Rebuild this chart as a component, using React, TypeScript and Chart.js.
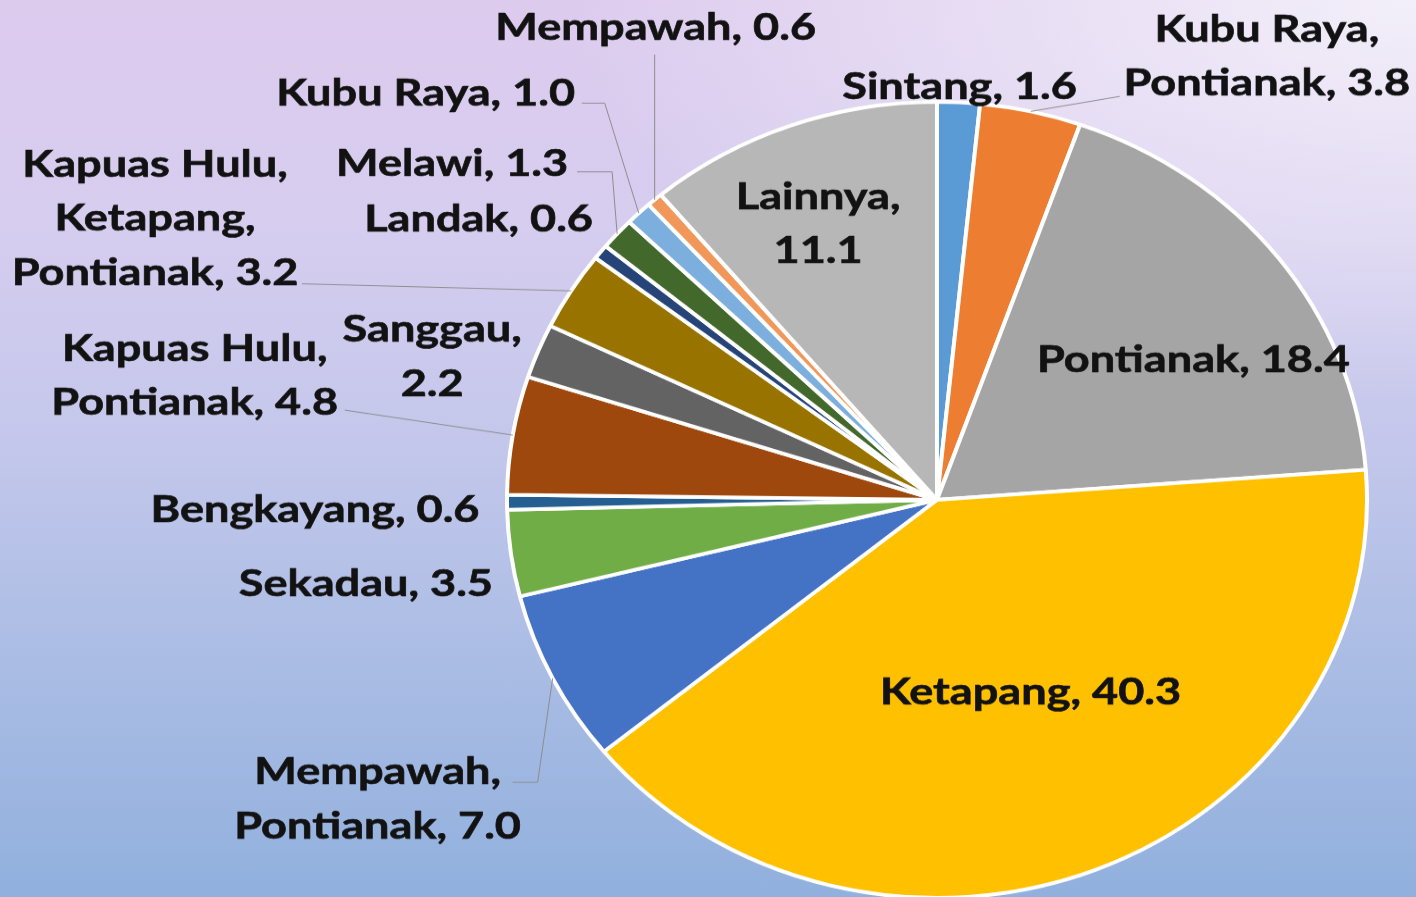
import React, { useEffect, useRef } from "react";
import { Chart, registerables } from "chart.js";

Chart.register(...registerables);

// ---- data ----
const categories = [
  "Sintang",
  "Kubu Raya,\nPontianak",
  "Pontianak",
  "Ketapang",
  "Mempawah,\nPontianak",
  "Sekadau",
  "Bengkayang",
  "Kapuas Hulu,\nPontianak",
  "Sanggau",
  "Kapuas Hulu,\nKetapang,\nPontianak",
  "Landak",
  "Melawi",
  "Kubu Raya",
  "Mempawah",
  "Lainnya",
];
const values = [1.6, 3.8, 18.4, 40.3, 7.0, 3.5, 0.6, 4.8, 2.2, 3.2, 0.6, 1.3, 1.0, 0.6, 11.1];
const valueOnNewLine = [false, false, false, false, false, false, false, false, true, false, false, false, false, false, true];
const sliceColors = [
  "#5B9BD5", "#ED7D31", "#A5A5A5", "#FFC000", "#4472C4", "#70AD47", "#255E91",
  "#9E480E", "#636363", "#997300", "#264478", "#43682B", "#7CAFDD", "#F1975A", "#B7B7B7",
];

// label anchor (centre x, first baseline) as offset from the slice's outer mid point (screen px)
const labelOffsets: [number, number][] = [
  [1, -3], [236, -70], [-85, 114], [-66, -165], [-175, 106], [-145, 43], [-192, 20],
  [-318, -74], [-106, -9], [-416, -114], [-122, -21], [-165, -58], [-213, -108], [1, -160], [28, 83],
];
// leader polylines, offsets from the slice's outer mid point (screen px), ending at that point
const leaderPoints: [number, number][][] = [
  [], [[89, -15]], [], [], [[-40, 104], [-15, 104]], [], [], [[-168, -25]], [],
  [[-269, -7]], [], [[-40, -62], [-5, -62]], [[-57, -110], [-34, -110]], [[0, -145]], [],
];

const W = 1416;
const H = 897;
const SY = 398 / 430; // vertical squeeze of the original picture
const CH = Math.round(H / SY);
const LINE = 54;
const FONT = "bold 41px Lato";
const HX = 1.1; // horizontal stretch of label text

const labelLines = categories.map((c, i) =>
  (c + "," + (valueOnNewLine[i] ? "\n" : " ") + values[i].toFixed(1)).split("\n")
);

const labelPlugin = {
  id: "sliceLabels",
  afterDatasetsDraw(chart: any) {
    const ctx = chart.ctx as CanvasRenderingContext2D;
    const meta = chart.getDatasetMeta(0);
    ctx.save();
    const anchors = meta.data.map((arc: any) => {
      const p = arc.getProps(["x", "y", "startAngle", "endAngle", "outerRadius"], true);
      const mid = (p.startAngle + p.endAngle) / 2;
      return [p.x + Math.cos(mid) * p.outerRadius, p.y + Math.sin(mid) * p.outerRadius];
    });
    ctx.strokeStyle = "#8d8d8d";
    ctx.lineWidth = 1;
    anchors.forEach(([ex, ey]: number[], i: number) => {
      const pts = leaderPoints[i];
      if (!pts.length) return;
      ctx.beginPath();
      ctx.moveTo(ex + pts[0][0], ey + pts[0][1] / SY);
      for (let k = 1; k < pts.length; k++) ctx.lineTo(ex + pts[k][0], ey + pts[k][1] / SY);
      ctx.lineTo(ex, ey);
      ctx.stroke();
    });
    ctx.font = FONT;
    ctx.fillStyle = "#121212";
    ctx.strokeStyle = "#121212";
    ctx.lineWidth = 0.7;
    ctx.textAlign = "center";
    ctx.textBaseline = "alphabetic";
    anchors.forEach(([ex, ey]: number[], i: number) => {
      const [dx, dy] = labelOffsets[i];
      labelLines[i].forEach((ln, k) => {
        ctx.save();
        ctx.translate(ex + dx, ey + (dy + k * LINE) / SY);
        ctx.scale(HX, 1);
        ctx.fillText(ln, 0, 0);
        ctx.strokeText(ln, 0, 0);
        ctx.restore();
      });
    });
    ctx.restore();
  },
};

export default function App() {
  const ref = useRef<HTMLCanvasElement | null>(null);
  useEffect(() => {
    if (!ref.current) return;
    const chart = new Chart(ref.current, {
      type: "pie",
      data: {
        labels: categories.map((c) => c.replace(/\n/g, " ")),
        datasets: [
          {
            data: values,
            backgroundColor: sliceColors,
            borderColor: "#ffffff",
            borderWidth: 4,
          },
        ],
      },
      options: {
        responsive: false,
        animation: false,
        radius: 430,
        layout: { padding: { left: 458, right: 0, top: 111, bottom: 0 } },
        plugins: { legend: { display: false }, tooltip: { enabled: false } },
      } as any,
      plugins: [labelPlugin],
    });
    return () => chart.destroy();
  }, []);

  return (
    <div
      style={{
        position: "fixed",
        left: 0,
        top: 0,
        width: W,
        height: H,
        overflow: "hidden",
        background:
          "radial-gradient(ellipse 60% 45% at 100% 0%, rgba(244,241,250,0.95), rgba(244,241,250,0) 100%), " +
          "linear-gradient(180deg, #ddcbee 0%, #d6cdef 25%, #c3c7eb 50%, #a9bce4 75%, #91b0dd 100%)",
      }}
    >
      <div style={{ width: W, height: CH, transform: `scaleY(${SY})`, transformOrigin: "0 0" }}>
        <canvas ref={ref} width={W} height={CH} style={{ display: "block" }} />
      </div>
    </div>
  );
}
